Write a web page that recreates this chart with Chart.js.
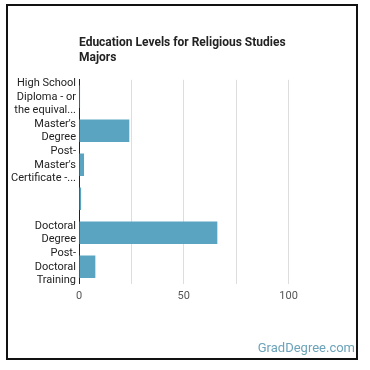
<!DOCTYPE html>
<html lang="en">
<head>
<meta charset="utf-8">
<title>Education Levels for Religious Studies Majors</title>
<script src="https://cdn.jsdelivr.net/npm/chart.js@4.4.1/dist/chart.umd.min.js"></script>
<style>
    html, body { margin: 0; padding: 0; background: #fff; }
    #wrap { width: 370px; height: 370px; position: relative; }
</style>
</head>
<body>
<div id="wrap"><canvas id="eduChart" width="370" height="370"></canvas></div>
<script>
// Datos del gráfico
const categories = [
    ['High School', 'Diploma - or', 'the equival...'],
    ["Master's", 'Degree'],
    ['Post-', "Master's", 'Certificate -...'],
    '',
    ['Doctoral', 'Degree'],
    ['Post-', 'Doctoral', 'Training']
];
const percentValues = [0.5, 24, 2.4, 1, 66, 7.8];
const tickLabels = [0, 50, 100];
const titleLines = ['Education Levels for Religious Studies', 'Majors'];
const watermark = 'GradDegree.com';

document.addEventListener('DOMContentLoaded', () => {
    // Marco negro y marca de agua
    const framePlugin = {
        id: 'frame',
        afterDraw(chart) {
            const ctx = chart.ctx;
            ctx.save();
            ctx.strokeStyle = '#111';
            ctx.lineWidth = 2;
            ctx.strokeRect(7, 5, 350, 354);
            ctx.fillStyle = '#6ba3ba';
            ctx.font = '13px Roboto';
            ctx.textAlign = 'right';
            ctx.textBaseline = 'alphabetic';
            ctx.fillText(watermark, 355, 352);
            ctx.restore();
        }
    };

    const ctx = document.getElementById('eduChart').getContext('2d');
    new Chart(ctx, {
        type: 'bar',
        data: {
            labels: categories,
            datasets: [{
                data: percentValues,
                backgroundColor: '#5ba4c1',
                borderWidth: 0,
                barPercentage: 0.66,
                categoryPercentage: 1
            }]
        },
        options: {
            indexAxis: 'y',
            responsive: false,
            animation: false,
            layout: { padding: { top: 36, left: 0, right: 29, bottom: 61 } },
            plugins: {
                legend: { display: false },
                tooltip: { enabled: false },
                title: {
                    display: true,
                    text: titleLines,
                    align: 'start',
                    fullSize: false,
                    color: '#222',
                    font: { family: 'Roboto', size: 12, weight: 'bold', lineHeight: 1.2 },
                    padding: { top: 0, bottom: 15 }
                }
            },
            scales: {
                x: {
                    min: 0,
                    max: 125,
                    afterBuildTicks: (scale) => {
                        scale.ticks = scale.ticks.filter(t => t.value % 25 === 0);
                    },
                    ticks: {
                        stepSize: 25,
                        padding: 6,
                        autoSkip: false,
                        maxRotation: 0,
                        color: '#555',
                        font: { family: 'Roboto', size: 11 },
                        callback: (v) => tickLabels.includes(v) ? String(v) : ''
                    },
                    grid: {
                        drawTicks: false,
                        color: (c) => (c.tick && c.tick.value > 0 && c.tick.value <= 100) ? '#ddd' : 'rgba(0,0,0,0)'
                    },
                    border: { display: false }
                },
                y: {
                    afterFit: (scale) => { scale.width = 79; },
                    ticks: {
                        padding: 3,
                        autoSkip: false,
                        color: '#222',
                        font: { family: 'Roboto', size: 11, lineHeight: 1.25 }
                    },
                    grid: { display: false, drawTicks: false },
                    border: { display: true, color: '#222', width: 1 }
                }
            }
        },
        plugins: [framePlugin]
    });
});
</script>
</body>
</html>
